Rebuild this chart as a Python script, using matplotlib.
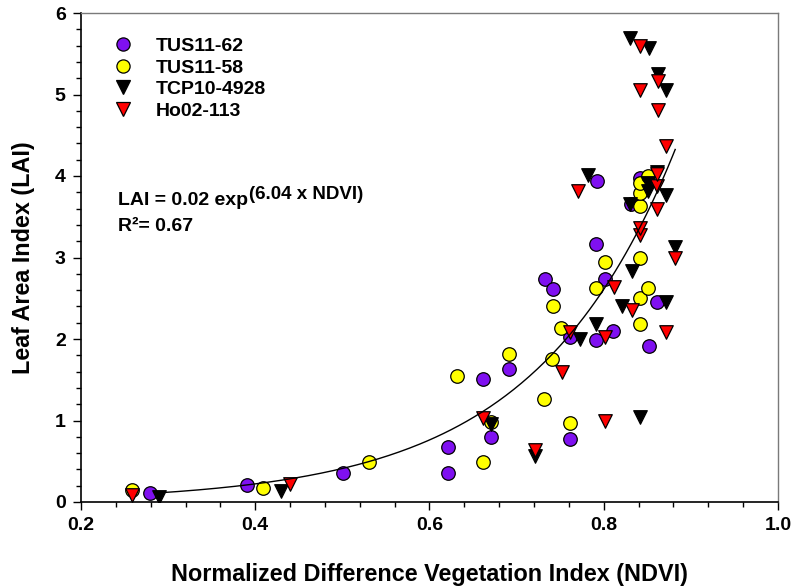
import numpy as np
import matplotlib
matplotlib.use("Agg")
import matplotlib.pyplot as plt
from matplotlib.lines import Line2D

plt.rcParams['font.family'] = ['Liberation Sans', 'DejaVu Sans']
plt.rcParams['font.weight'] = 'bold'

# ---- data ----
tus62_ndvi = [0.279, 0.390, 0.501, 0.621, 0.621, 0.661, 0.671, 0.691, 0.732, 0.742, 0.761,
              0.761, 0.791, 0.791, 0.792, 0.802, 0.811, 0.831, 0.842, 0.852, 0.861]
tus62_lai = [0.114, 0.21, 0.35, 0.36, 0.67, 1.51, 0.80, 1.63, 2.74, 2.61, 0.77,
             2.03, 1.99, 3.17, 3.94, 2.74, 2.10, 3.66, 3.97, 1.92, 2.45]

tus58_ndvi = [0.259, 0.409, 0.531, 0.631, 0.661, 0.671, 0.691, 0.731, 0.741, 0.742, 0.751,
              0.761, 0.791, 0.802, 0.842, 0.842, 0.842, 0.851, 0.842, 0.842, 0.842, 0.851]
tus58_lai = [0.147, 0.176, 0.49, 1.55, 0.49, 0.985, 1.81, 1.26, 1.75, 2.40, 2.13,
             0.97, 2.63, 2.95, 2.19, 2.50, 3.00, 2.62, 3.63, 3.79, 3.92, 4.00]

tcp_ndvi = [0.290, 0.430, 0.671, 0.721, 0.773, 0.791, 0.782, 0.821, 0.832, 0.830, 0.842,
            0.851, 0.851, 0.861, 0.872, 0.872, 0.882, 0.830, 0.852, 0.862, 0.872]
tcp_lai = [0.065, 0.135, 0.96, 0.56, 2.00, 2.19, 4.01, 2.40, 2.83, 3.66, 1.04,
           3.81, 3.92, 4.05, 3.77, 2.46, 3.13, 5.69, 5.57, 5.25, 5.06]

ho_ndvi = [0.259, 0.440, 0.661, 0.721, 0.752, 0.761, 0.771, 0.802, 0.802, 0.812, 0.832,
           0.842, 0.842, 0.861, 0.861, 0.861, 0.872, 0.872, 0.862, 0.842, 0.862, 0.842, 0.882]
ho_lai = [0.086, 0.22, 1.03, 0.64, 1.59, 2.09, 3.82, 2.02, 0.99, 2.64, 2.36,
          3.28, 3.36, 3.60, 3.88, 4.03, 2.09, 4.37, 4.81, 5.06, 5.17, 5.59, 2.99]

series_names = ["TUS11-62", "TUS11-58", "TCP10-4928", "Ho02-113"]

# exponential fit curve LAI = a * exp(b * NDVI) (as drawn in the reference)
fit_a = 0.0189
fit_b = 6.16
fit_range = (0.287, 0.882)

x_ticks = [0.2, 0.4, 0.6, 0.8, 1.0]
y_ticks = [0, 1, 2, 3, 4, 5, 6]

# ---- figure ----
fig = plt.figure(figsize=(7.91, 5.88), dpi=100)
ax = fig.add_axes([81 / 791, 1 - 502 / 588, (778 - 81) / 791, (502 - 13) / 588])

ms = 95
ax.scatter(tus62_ndvi, tus62_lai, s=ms, marker='o', facecolor='#7F10F0', edgecolor='black', linewidth=0.9, zorder=3)
ax.scatter(tus58_ndvi, tus58_lai, s=ms, marker='o', facecolor='#FFFF00', edgecolor='black', linewidth=0.9, zorder=3)
ax.scatter(tcp_ndvi, tcp_lai, s=ms, marker='v', facecolor='black', edgecolor='black', linewidth=0.9, zorder=3)
ax.scatter(ho_ndvi, ho_lai, s=ms, marker='v', facecolor='#FF0000', edgecolor='black', linewidth=0.9, zorder=3)

xf = np.linspace(fit_range[0], fit_range[1], 200)
ax.plot(xf, fit_a * np.exp(fit_b * xf), color='black', linewidth=1.0, zorder=4)

ax.set_xlim(0.2, 1.0)
ax.set_ylim(0, 6)
ax.set_xticks(x_ticks)
ax.set_xticklabels([f"{v:.1f}" for v in x_ticks])
ax.set_yticks(y_ticks)
ax.set_yticklabels([str(v) for v in y_ticks])
ax.set_xticks(np.arange(0.2, 1.0001, 0.04), minor=True)
ax.set_yticks(np.arange(0, 6.0001, 0.2), minor=True)
ax.tick_params(axis='both', which='major', direction='out', length=6, width=1.0, labelsize=14, pad=5)
ax.tick_params(axis='both', which='minor', direction='out', length=3.5, width=1.0)
ax.tick_params(top=False, right=False, which='both')

for side in ['left', 'bottom']:
    ax.spines[side].set_color('black')
    ax.spines[side].set_linewidth(1.2)
for side in ['top', 'right']:
    ax.spines[side].set_color('#7a7a7a')
    ax.spines[side].set_linewidth(1.0)

ax.set_xlabel("Normalized Difference Vegetation Index (NDVI)", fontsize=16.8, fontweight='bold', labelpad=21)
ax.set_ylabel("Leaf Area Index (LAI)", fontsize=16.8, fontweight='bold', labelpad=14)

handles = [
    Line2D([], [], linestyle='none', marker='o', markersize=9.5, markerfacecolor='#7F10F0', markeredgecolor='black', markeredgewidth=0.9),
    Line2D([], [], linestyle='none', marker='o', markersize=9.5, markerfacecolor='#FFFF00', markeredgecolor='black', markeredgewidth=0.9),
    Line2D([], [], linestyle='none', marker='v', markersize=9.5, markerfacecolor='black', markeredgecolor='black', markeredgewidth=0.9),
    Line2D([], [], linestyle='none', marker='v', markersize=9.5, markerfacecolor='#FF0000', markeredgecolor='black', markeredgewidth=0.9),
]
ax.legend(handles, series_names, loc='upper left', bbox_to_anchor=(0.035, 0.966), frameon=False,
          prop={'size': 14, 'weight': 'bold'}, handlelength=1.0, handletextpad=1.2, labelspacing=0.2,
          borderaxespad=0)

t = ax.text(0.053, 0.607, "LAI = 0.02 exp", transform=ax.transAxes, fontsize=14, fontweight='bold',
            va='baseline', ha='left')
ax.annotate("(6.04 x NDVI)", xy=(1, 1), xycoords=t, xytext=(0.5, -8), textcoords='offset points',
            fontsize=13.5, fontweight='bold', va='bottom', ha='left')
ax.text(0.053, 0.554, "R\u00b2= 0.67", transform=ax.transAxes, fontsize=14, fontweight='bold',
        va='baseline', ha='left')

fig.savefig("out.png", dpi=100)
